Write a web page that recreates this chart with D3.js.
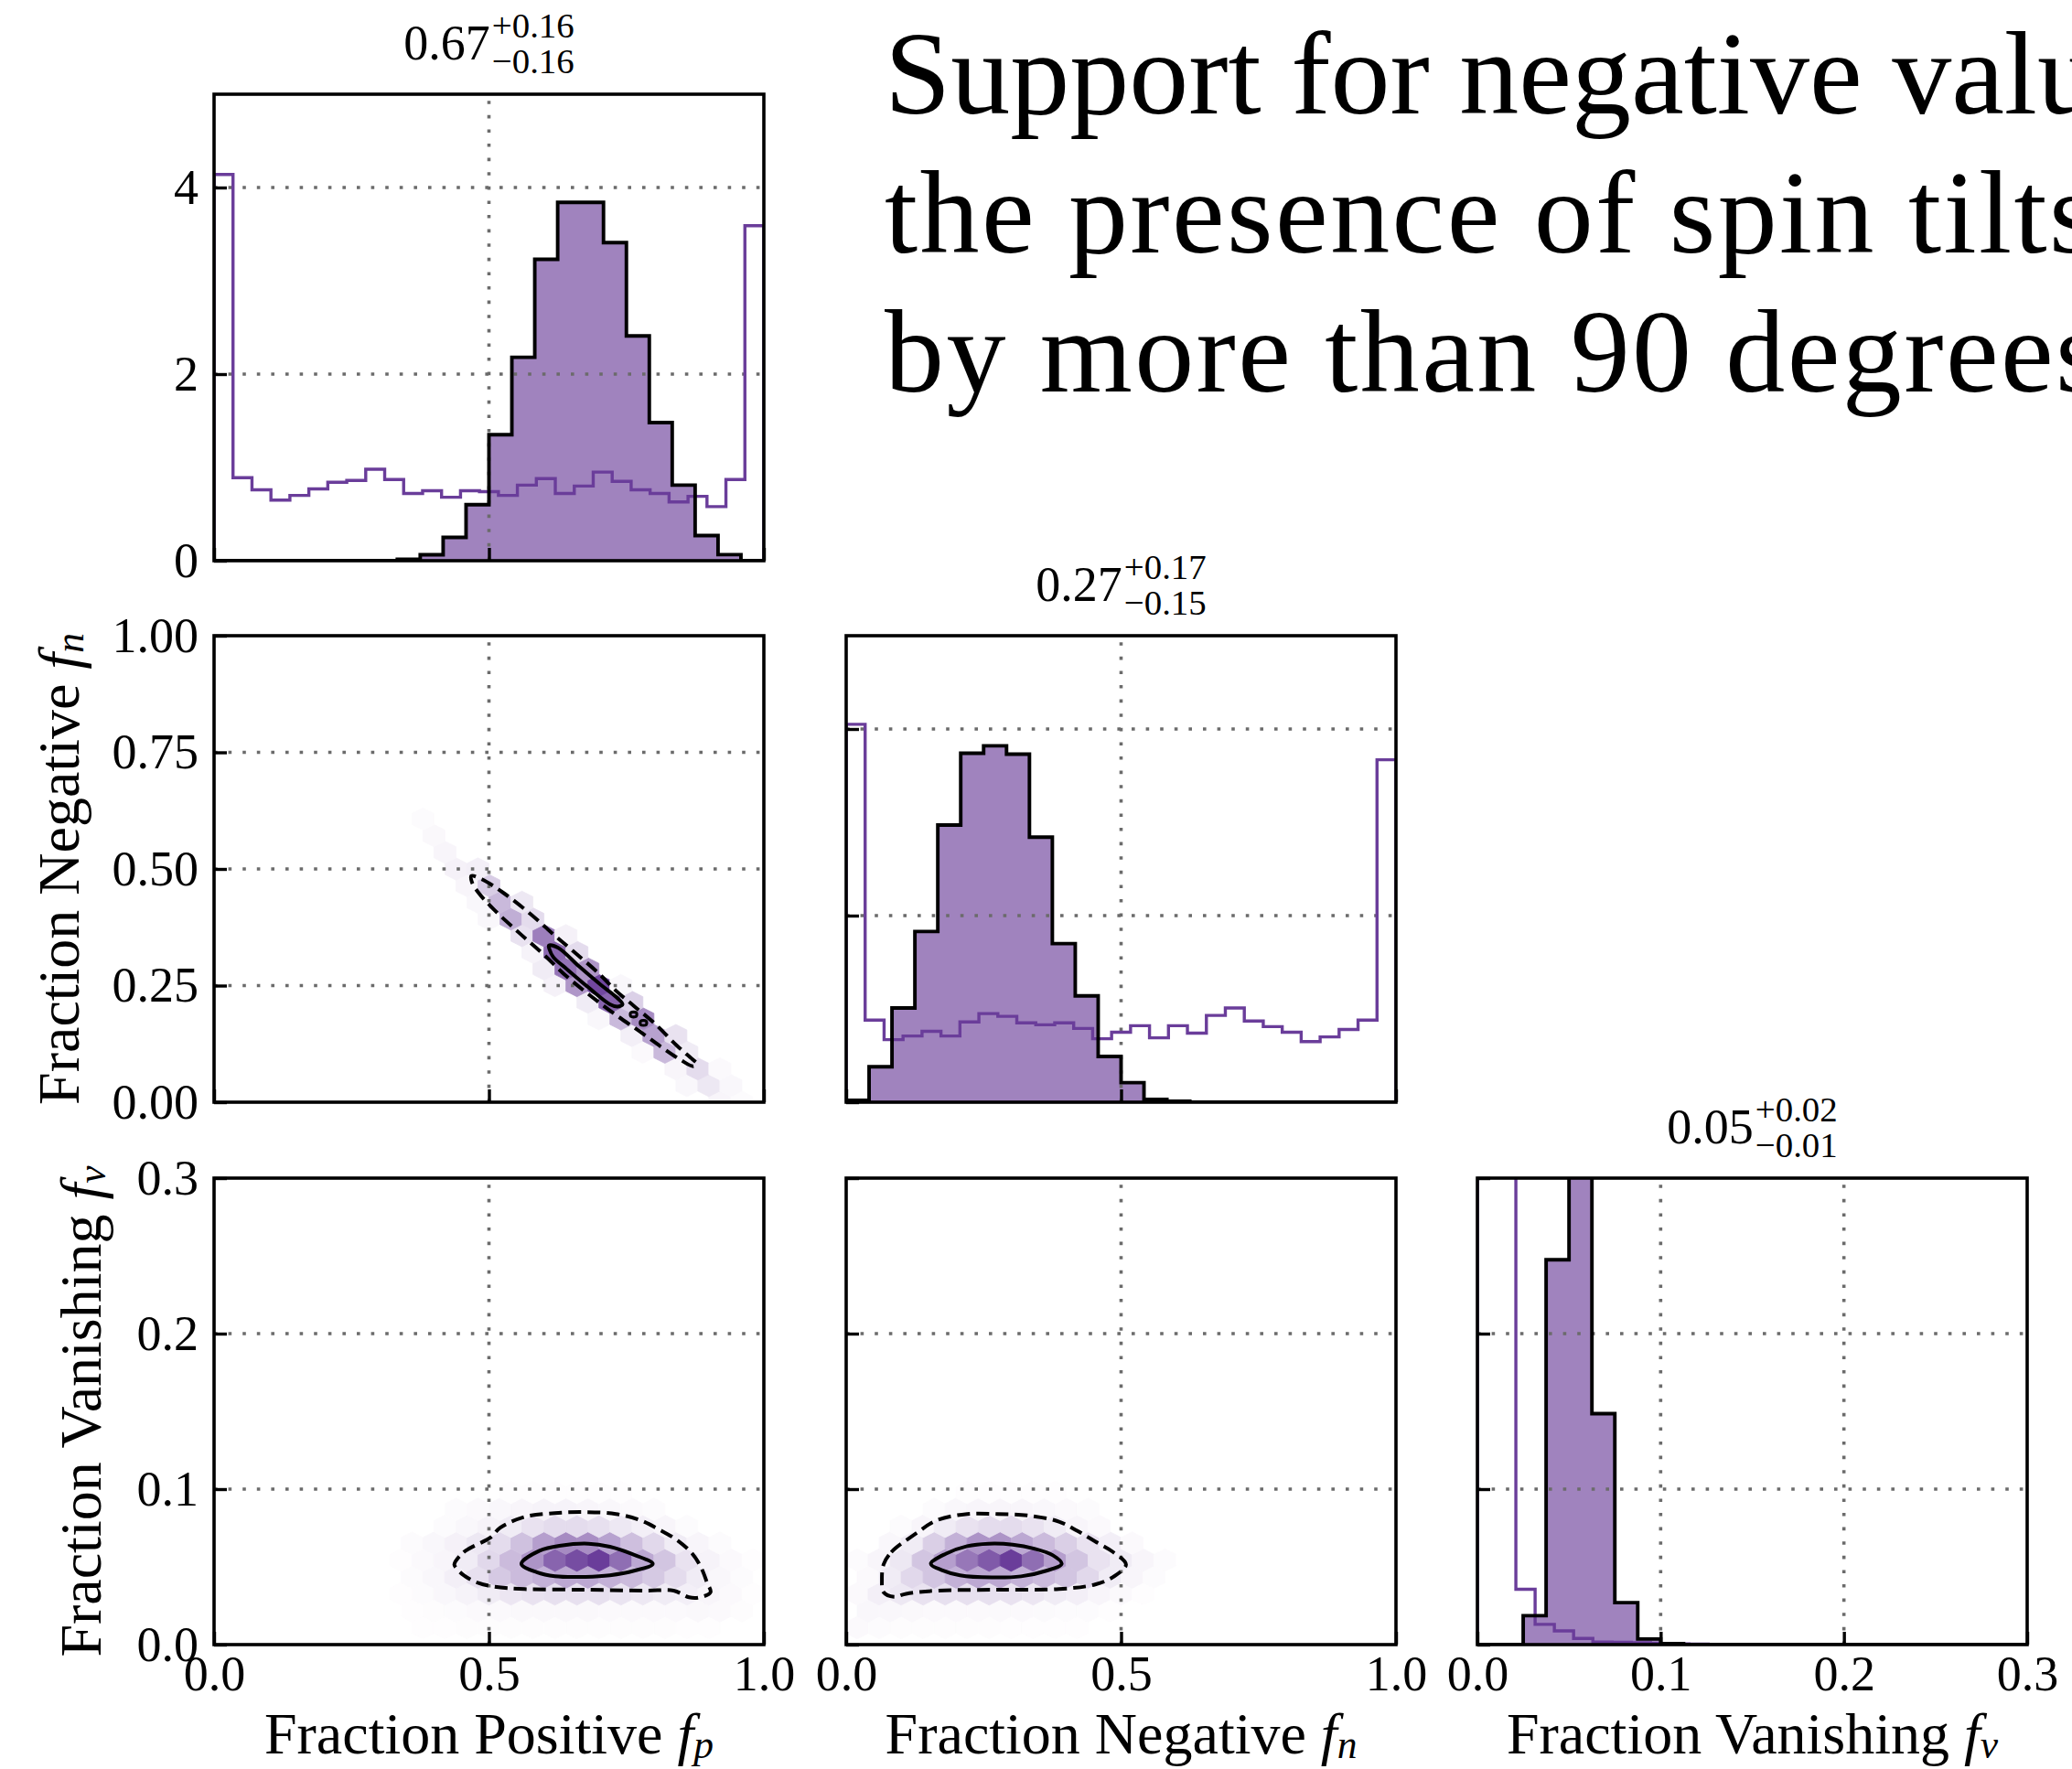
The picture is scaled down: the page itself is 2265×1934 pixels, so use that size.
<!DOCTYPE html>
<html>
<head>
<meta charset="utf-8">
<script src="https://cdn.jsdelivr.net/npm/d3@7"></script>
<style>
  html, body { margin: 0; padding: 0; background: #ffffff; }
  svg { display: block; }
</style>
</head>
<body>
<svg id="chart" width="2265" height="1934"></svg>
<script>
// ---------------------------------------------------------------------------
// Corner plot of the spin-tilt fractions: positive f_p, negative f_n, vanishing f_v
// ---------------------------------------------------------------------------

// Parameter names and axis labels
const paramNames = ["Fraction Positive", "Fraction Negative", "Fraction Vanishing"];
const paramSymbols = ["p", "n", "v"];

// Summary statistics printed above the 1-D marginals (median, +upper, -lower)
const medians = ["0.67", "0.27", "0.05"];
const upperErr = ["0.16", "0.17", "0.02"];
const lowerErr = ["0.16", "0.15", "0.01"];

// Posterior histograms (density), equal bins over the stated range
const fpPostRange = [0, 1];
const fpPosterior = [0, 0, 0, 0, 0, 0, 0, 0, 0.016, 0.064, 0.25, 0.60, 1.35, 2.18, 3.23, 3.84,
                     3.84, 3.41, 2.41, 1.48, 0.81, 0.27, 0.065, 0];
const fnPostRange = [0, 1];
const fnPosterior = [0.02, 0.38, 1.01, 1.83, 2.97, 3.74, 3.82, 3.73, 2.84, 1.70, 1.14, 0.49,
                     0.21, 0.03, 0.01, 0, 0, 0, 0, 0, 0, 0, 0, 0];
const fvPostRange = [0, 0.3];
const fvPosterior = [0, 0, 1.86, 24.75, 35.4, 14.85, 2.7, 0.36, 0.06, 0, 0, 0,
                     0, 0, 0, 0, 0, 0, 0, 0, 0, 0, 0, 0];

// Prior histograms (density), drawn as purple steps
const fpPriorRange = [0, 1];
const fpPrior = [4.14, 0.89, 0.76, 0.65, 0.70, 0.77, 0.84, 0.86, 0.98, 0.87, 0.72, 0.75, 0.68,
                 0.75, 0.74, 0.70, 0.81, 0.88, 0.72, 0.80, 0.95, 0.85, 0.76, 0.72, 0.63, 0.69,
                 0.58, 0.87, 3.59];
const fnPriorRange = [0, 1];
const fnPrior = [4.05, 0.88, 0.67, 0.71, 0.76, 0.71, 0.86, 0.95, 0.92, 0.85, 0.83, 0.85, 0.79,
                 0.68, 0.75, 0.82, 0.69, 0.82, 0.74, 0.93, 1.01, 0.87, 0.81, 0.75, 0.65, 0.70,
                 0.78, 0.88, 3.67];
const fvPriorRange = [0, 0.3045];
const fvPrior = [50, 36, 3.56, 1.30, 0.88, 0.40, 0.17, 0.15, 0.12, 0.08, 0.05, 0.03, 0.02, 0.01,
                 0, 0, 0, 0, 0, 0, 0, 0, 0, 0, 0, 0, 0, 0, 0];

// Hexbin lattices (25 columns across x); rows are counted in half steps of sy
const hexGridFv = { sx: 0.04, sy: 0.3045 / 14 };
const hexGridFn = { sx: 0.04, sy: 1 / 14 };

// Relative hexbin densities: { r: half-step row, c0: first column, w: weights }
const hexFpFv = [
  { r: 1, c0: 9,  w: [0.01, 0.01, 0.015, 0.015, 0.015, 0.015, 0.015, 0.015, 0.015, 0.015, 0.015, 0.015, 0.01, 0.01] },
  { r: 2, c0: 9,  w: [0.01, 0.015, 0.02, 0.03, 0.03, 0.035, 0.035, 0.035, 0.035, 0.03, 0.03, 0.03, 0.03, 0.035, 0.03, 0.015] },
  { r: 3, c0: 8,  w: [0.01, 0.02, 0.04, 0.06, 0.10, 0.13, 0.15, 0.16, 0.16, 0.16, 0.14, 0.12, 0.10, 0.08, 0.05, 0.03, 0.01] },
  { r: 4, c0: 9,  w: [0.02, 0.04, 0.08, 0.16, 0.28, 0.35, 0.40, 0.45, 0.45, 0.40, 0.35, 0.28, 0.18, 0.10, 0.04, 0.02] },
  { r: 5, c0: 8,  w: [0.01, 0.03, 0.05, 0.10, 0.20, 0.35, 0.55, 0.80, 0.92, 1.00, 0.75, 0.45, 0.30, 0.15, 0.06, 0.03, 0.01] },
  { r: 6, c0: 9,  w: [0.02, 0.04, 0.07, 0.12, 0.18, 0.32, 0.50, 0.60, 0.58, 0.48, 0.33, 0.20, 0.10, 0.05, 0.02] },
  { r: 7, c0: 10, w: [0.02, 0.04, 0.06, 0.10, 0.15, 0.18, 0.18, 0.16, 0.12, 0.08, 0.05, 0.02] },
  { r: 8, c0: 11, w: [0.02, 0.03, 0.04, 0.05, 0.06, 0.06, 0.05, 0.04, 0.03, 0.02] },
  { r: 9, c0: 13, w: [0.01, 0.01, 0.01, 0.01, 0.01, 0.01] }
];
const hexFnFv = [
  { r: 1, c0: 0, w: [0.03, 0.02, 0.015, 0.015, 0.015, 0.015, 0.015, 0.01, 0.01, 0.01, 0.01] },
  { r: 2, c0: 1, w: [0.04, 0.04, 0.035, 0.03, 0.03, 0.03, 0.03, 0.03, 0.025, 0.02, 0.02, 0.01] },
  { r: 3, c0: 0, w: [0.03, 0.08, 0.12, 0.15, 0.16, 0.16, 0.16, 0.15, 0.13, 0.10, 0.08, 0.05, 0.03, 0.01] },
  { r: 4, c0: 1, w: [0.03, 0.10, 0.20, 0.30, 0.40, 0.45, 0.45, 0.40, 0.35, 0.30, 0.20, 0.10, 0.05, 0.02] },
  { r: 5, c0: 0, w: [0.02, 0.05, 0.12, 0.30, 0.50, 0.70, 0.85, 1.00, 0.75, 0.50, 0.30, 0.15, 0.10, 0.05, 0.02] },
  { r: 6, c0: 2, w: [0.04, 0.10, 0.25, 0.40, 0.55, 0.55, 0.45, 0.35, 0.25, 0.15, 0.08, 0.03] },
  { r: 7, c0: 2, w: [0.02, 0.05, 0.10, 0.15, 0.18, 0.18, 0.15, 0.10, 0.05, 0.03] },
  { r: 8, c0: 4, w: [0.02, 0.04, 0.05, 0.05, 0.05, 0.04, 0.03, 0.02] },
  { r: 9, c0: 5, w: [0.01, 0.01, 0.01, 0.01, 0.01] }
];
const hexFpFn = [
  { r: 0,  c0: 23, w: [0.05, 0.02] },
  { r: 1,  c0: 21, w: [0.04, 0.12, 0.04] },
  { r: 2,  c0: 21, w: [0.05, 0.18, 0.03] },
  { r: 3,  c0: 19, w: [0.03, 0.36, 0.10] },
  { r: 4,  c0: 19, w: [0.08, 0.48, 0.15] },
  { r: 5,  c0: 17, w: [0.04, 0.36, 0.60] },
  { r: 6,  c0: 17, w: [0.10, 0.80, 0.24] },
  { r: 7,  c0: 15, w: [0.07, 0.54, 0.95, 0.04] },
  { r: 8,  c0: 15, w: [0.10, 0.72, 0.54] },
  { r: 9,  c0: 14, w: [0.06, 0.78, 0.18] },
  { r: 10, c0: 14, w: [0.15, 0.66, 0.07] },
  { r: 11, c0: 12, w: [0.04, 0.42, 0.18] },
  { r: 12, c0: 12, w: [0.04, 0.36, 0.12] },
  { r: 13, c0: 11, w: [0.05, 0.26] },
  { r: 14, c0: 11, w: [0.07, 0.08] },
  { r: 15, c0: 10, w: [0.05] },
  { r: 16, c0: 10, w: [0.035] },
  { r: 17, c0: 9,  w: [0.02] }
];

// Credible-region contours (outer dashed, inner solid), in data units
const fpFnOuter = [[0.468, 0.485], [0.487, 0.478], [0.526, 0.449], [0.576, 0.403], [0.620, 0.357],
  [0.653, 0.324], [0.698, 0.278], [0.731, 0.239], [0.764, 0.206], [0.803, 0.167], [0.842, 0.121],
  [0.870, 0.092], [0.878, 0.083], [0.872, 0.077], [0.847, 0.092], [0.814, 0.118], [0.775, 0.151],
  [0.731, 0.187], [0.687, 0.226], [0.642, 0.269], [0.598, 0.318], [0.554, 0.364], [0.509, 0.413],
  [0.481, 0.449], [0.469, 0.472]];
const fpFnInner = [[0.609, 0.336], [0.626, 0.331], [0.664, 0.291], [0.703, 0.252], [0.731, 0.226],
  [0.743, 0.210], [0.734, 0.205], [0.720, 0.210], [0.681, 0.246], [0.642, 0.285], [0.617, 0.311],
  [0.610, 0.328]];
const fpFnIslands = [
  [[0.758, 0.192], [0.768, 0.192], [0.768, 0.184], [0.758, 0.184]],
  [[0.776, 0.174], [0.786, 0.174], [0.786, 0.166], [0.776, 0.166]]
];
const fpFvOuter = [[0.437, 0.0515], [0.454, 0.0594], [0.504, 0.0692], [0.520, 0.0751], [0.565, 0.0821],
  [0.620, 0.0846], [0.676, 0.0852], [0.731, 0.0840], [0.775, 0.0800], [0.809, 0.0741], [0.842, 0.0673],
  [0.870, 0.0584], [0.886, 0.0495], [0.897, 0.0396], [0.903, 0.0337], [0.881, 0.0302], [0.864, 0.0304],
  [0.836, 0.0347], [0.786, 0.0347], [0.676, 0.0353], [0.565, 0.0357], [0.509, 0.0373], [0.481, 0.0396],
  [0.454, 0.0446], [0.440, 0.0495]];
const fpFvInner = [[0.559, 0.0519], [0.592, 0.0604], [0.631, 0.0637], [0.681, 0.0649], [0.720, 0.0629],
  [0.759, 0.0584], [0.798, 0.0519], [0.764, 0.0475], [0.720, 0.0446], [0.676, 0.0436], [0.620, 0.0440],
  [0.587, 0.0466]];
const fnFvOuter = [[0.068, 0.0515], [0.082, 0.0594], [0.126, 0.0712], [0.165, 0.0800], [0.220, 0.0840],
  [0.276, 0.0840], [0.331, 0.0830], [0.387, 0.0791], [0.420, 0.0732], [0.453, 0.0663], [0.486, 0.0594],
  [0.509, 0.0515], [0.486, 0.0436], [0.453, 0.0387], [0.387, 0.0357], [0.276, 0.0353], [0.165, 0.0347],
  [0.109, 0.0327], [0.087, 0.0308], [0.068, 0.0337], [0.065, 0.0416]];
const fnFvInner = [[0.154, 0.0519], [0.181, 0.0584], [0.220, 0.0633], [0.259, 0.0649], [0.303, 0.0643],
  [0.342, 0.0617], [0.376, 0.0574], [0.392, 0.0519], [0.364, 0.0475], [0.318, 0.0439], [0.265, 0.0432],
  [0.207, 0.0446], [0.174, 0.0479]];

// Tick values
const unitTicks = [0, 0.5, 1];
const densityTicks = [0, 2, 4];
const fnTicks = [0, 0.25, 0.5, 0.75, 1];
const fvTicks = [0, 0.1, 0.2, 0.3];
const fvDensityTicks = [0, 10, 20, 30];

// Headline text
const headline = ["Support for negative values", "the presence of spin tilts", "by more than 90 degrees"];

// ---------------------------------------------------------------------------
// Styling and layout
// ---------------------------------------------------------------------------
const SERIF = "'Liberation Serif', 'Times New Roman', serif";
const PURPLE = "#6a3d9a";
const GRID = "#6b6b6b";
const colX = [234, 925, 1615];
const rowY = [103, 695, 1288];
const PW = 601, PH = 510;
const TICK_FONT = 54, LABEL_FONT = 64, STAT_FONT = 54;
const HEAD_FONT = 130, HEAD_SPACING = [0, 2.4, 2.4];
const hexColor = d3.interpolateRgb("#ffffff", PURPLE);

const svg = d3.select("#chart");
svg.append("rect").attr("width", 2265).attr("height", 1934).attr("fill", "#ffffff");
const defs = svg.append("defs");

function makePanel(row, col, xDom, yDom) {
  const x = d3.scaleLinear().domain(xDom).range([colX[col], colX[col] + PW]);
  const y = d3.scaleLinear().domain(yDom).range([rowY[row] + PH, rowY[row]]);
  const id = `clip-${row}-${col}`;
  defs.append("clipPath").attr("id", id).append("rect")
    .attr("x", colX[col]).attr("y", rowY[row]).attr("width", PW).attr("height", PH);
  const g = svg.append("g").attr("class", `panel-${row}-${col}`);
  const data = g.append("g").attr("clip-path", `url(#${id})`);
  const grid = g.append("g").attr("clip-path", `url(#${id})`);
  const lines = g.append("g").attr("clip-path", `url(#${id})`);
  const frame = g.append("g");
  return { x, y, data, grid, lines, frame, row, col };
}

function drawGrid(p, xVals, yVals) {
  const [x0, x1] = p.x.range(), [y0, y1] = p.y.range();
  p.grid.selectAll("line.gx").data(xVals).join("line").attr("class", "gx")
    .attr("x1", d => p.x(d)).attr("x2", d => p.x(d)).attr("y1", y0).attr("y2", y1);
  p.grid.selectAll("line.gy").data(yVals).join("line").attr("class", "gy")
    .attr("y1", d => p.y(d)).attr("y2", d => p.y(d)).attr("x1", x0).attr("x2", x1);
  p.grid.selectAll("line").attr("stroke", GRID).attr("stroke-width", 3.6)
    .attr("stroke-dasharray", "3.6,12");
}

function drawAxes(p, xTicks, yTicks, xFmt, yFmt) {
  const bottom = p.y.range()[0], left = p.x.range()[0];
  const ax = p.frame.append("g").attr("transform", `translate(0,${bottom})`)
    .call(d3.axisBottom(p.x).tickValues(xTicks).tickSize(-14).tickSizeOuter(0).tickPadding(12)
      .tickFormat(xFmt || (() => "")));
  const ay = p.frame.append("g").attr("transform", `translate(${left},0)`)
    .call(d3.axisLeft(p.y).tickValues(yTicks).tickSize(-14).tickSizeOuter(0).tickPadding(17)
      .tickFormat(yFmt || (() => "")));
  [ax, ay].forEach(a => {
    a.select(".domain").remove();
    a.selectAll(".tick line").attr("stroke", "#000").attr("stroke-width", 3.4);
    a.selectAll(".tick text").attr("fill", "#000").attr("font-family", SERIF)
      .attr("font-size", TICK_FONT);
  });
  p.frame.append("rect")
    .attr("x", p.x.range()[0]).attr("y", p.y.range()[1])
    .attr("width", PW).attr("height", PH)
    .attr("fill", "none").attr("stroke", "#000").attr("stroke-width", 3.6);
}

// Step outline for a histogram with equal bins over [lo, hi]
function stepPoints(range, vals) {
  const [lo, hi] = range, w = (hi - lo) / vals.length;
  const pts = [[lo, 0]];
  vals.forEach((v, i) => { pts.push([lo + i * w, v]); pts.push([lo + (i + 1) * w, v]); });
  pts.push([hi, 0]);
  return pts;
}

function drawHistogram(p, postRange, post, priorRange, prior) {
  const post_pts = stepPoints(postRange, post);
  const area = d3.area().x(d => p.x(d[0])).y0(p.y(0)).y1(d => p.y(d[1]));
  const line = d3.line().x(d => p.x(d[0])).y(d => p.y(d[1]));
  p.data.append("path").attr("d", area(post_pts)).attr("fill", PURPLE).attr("fill-opacity", 0.64);
  p.lines.append("path").attr("d", line(stepPoints(priorRange, prior)))
    .attr("fill", "none").attr("stroke", PURPLE).attr("stroke-width", 3.4)
    .attr("stroke-linejoin", "miter");
  p.lines.append("path").attr("d", line(post_pts))
    .attr("fill", "none").attr("stroke", "#000").attr("stroke-width", 3.9)
    .attr("stroke-linejoin", "miter");
}

function drawHexbin(p, grid, rows) {
  const { sx, sy } = grid;
  const cells = [];
  rows.forEach(row => row.w.forEach((w, k) => {
    const c = row.c0 + k;
    const cx = (row.r % 2 === 0) ? c * sx : (c + 0.5) * sx;
    const cy = row.r * sy / 2;
    cells.push({ cx, cy, w });
  }));
  const offs = [[0.5, -0.5], [0.5, 0.5], [0, 1], [-0.5, 0.5], [-0.5, -0.5], [0, -1]];
  const hexPath = d => "M" + offs.map(o => [p.x(d.cx + o[0] * sx), p.y(d.cy + o[1] * sy / 3)].join(",")).join("L") + "Z";
  p.data.selectAll("path.hex").data(cells).join("path").attr("class", "hex")
    .attr("d", hexPath)
    .attr("fill", d => hexColor(d.w)).attr("stroke", d => hexColor(d.w)).attr("stroke-width", 0.8);
}

function drawContour(p, pts, dashed, width) {
  const line = d3.line().x(d => p.x(d[0])).y(d => p.y(d[1]))
    .curve(d3.curveCatmullRomClosed.alpha(0.5));
  p.lines.append("path").attr("d", line(pts))
    .attr("fill", "none").attr("stroke", "#000").attr("stroke-width", width || 4)
    .attr("stroke-dasharray", dashed ? "14,7" : null);
}

function drawStat(p, i) {
  const cx = p.x.range()[0] + PW / 2;
  const base = p.y.range()[1] - 38;
  const g = svg.append("g").attr("font-family", SERIF).attr("fill", "#000");
  const main = g.append("text").attr("y", base).attr("font-size", STAT_FONT).text(medians[i]);
  const sup = g.append("text").attr("y", base - 24).attr("font-size", STAT_FONT * 0.72).text("+" + upperErr[i]);
  const sub = g.append("text").attr("y", base + 15).attr("font-size", STAT_FONT * 0.72).text("\u2212" + lowerErr[i]);
  const mw = main.node().getComputedTextLength();
  const sw = Math.max(sup.node().getComputedTextLength(), sub.node().getComputedTextLength());
  const x0 = cx - (mw + sw + 2) / 2;
  main.attr("x", x0);
  sup.attr("x", x0 + mw + 2);
  sub.attr("x", x0 + mw + 2);
}

function labelText(sel, i) {
  sel.append("tspan").text(paramNames[i] + " ");
  sel.append("tspan").attr("font-style", "italic").text("f");
  sel.append("tspan").attr("font-style", "italic").attr("font-size", LABEL_FONT * 0.68)
    .attr("dy", 5).text(paramSymbols[i]);
}

// ---------------------------------------------------------------------------
// Panels
// ---------------------------------------------------------------------------
const fmt1 = d3.format(".1f"), fmt2 = d3.format(".2f"), fmt0 = d3.format("d");

// Diagonal: f_p
const p11 = makePanel(0, 0, [0, 1], [0, 5]);
drawHistogram(p11, fpPostRange, fpPosterior, fpPriorRange, fpPrior);
drawGrid(p11, [0.5], [2, 4]);
drawAxes(p11, unitTicks, densityTicks, null, fmt0);
drawStat(p11, 0);

// f_p vs f_n
const p21 = makePanel(1, 0, [0, 1], [0, 1]);
drawHexbin(p21, hexGridFn, hexFpFn);
drawGrid(p21, [0.5], [0.25, 0.5, 0.75]);
drawContour(p21, fpFnOuter, true);
drawContour(p21, fpFnInner, false);
fpFnIslands.forEach(isl => drawContour(p21, isl, false, 3.2));
drawAxes(p21, unitTicks, fnTicks, null, fmt2);

// Diagonal: f_n
const p22 = makePanel(1, 1, [0, 1], [0, 5]);
drawHistogram(p22, fnPostRange, fnPosterior, fnPriorRange, fnPrior);
drawGrid(p22, [0.5], [2, 4]);
drawAxes(p22, unitTicks, densityTicks, null, null);
drawStat(p22, 1);

// f_p vs f_v
const p31 = makePanel(2, 0, [0, 1], [0, 0.3]);
drawHexbin(p31, hexGridFv, hexFpFv);
drawGrid(p31, [0.5], [0.1, 0.2]);
drawContour(p31, fpFvOuter, true);
drawContour(p31, fpFvInner, false);
drawAxes(p31, unitTicks, fvTicks, fmt1, fmt1);

// f_n vs f_v
const p32 = makePanel(2, 1, [0, 1], [0, 0.3]);
drawHexbin(p32, hexGridFv, hexFnFv);
drawGrid(p32, [0.5], [0.1, 0.2]);
drawContour(p32, fnFvOuter, true);
drawContour(p32, fnFvInner, false);
drawAxes(p32, unitTicks, fvTicks, fmt1, null);

// Diagonal: f_v
const p33 = makePanel(2, 2, [0, 0.3], [0, 30]);
drawHistogram(p33, fvPostRange, fvPosterior, fvPriorRange, fvPrior);
drawGrid(p33, [0.1, 0.2], [10, 20]);
drawAxes(p33, fvTicks, fvDensityTicks, fmt1, null);
drawStat(p33, 2);

// Axis labels
const labels = svg.append("g").attr("font-family", SERIF).attr("font-size", LABEL_FONT).attr("fill", "#000");
[0, 1, 2].forEach(i => {
  labels.append("text").attr("x", colX[i] + PW / 2).attr("y", 1917)
    .attr("text-anchor", "middle").call(labelText, i);
});
labels.append("text").attr("text-anchor", "middle")
  .attr("transform", `translate(86,${rowY[1] + PH / 2}) rotate(-90)`).call(labelText, 1);
labels.append("text").attr("text-anchor", "middle")
  .attr("transform", `translate(110,${rowY[2] + PH / 2}) rotate(-90)`).call(labelText, 2);

// Headline
const head = svg.append("g").attr("font-family", SERIF).attr("font-size", HEAD_FONT).attr("fill", "#000");
headline.forEach((t, i) => {
  head.append("text").attr("x", 967).attr("y", 124 + i * 152)
    .attr("letter-spacing", HEAD_SPACING[i]).text(t);
});
</script>
</body>
</html>
